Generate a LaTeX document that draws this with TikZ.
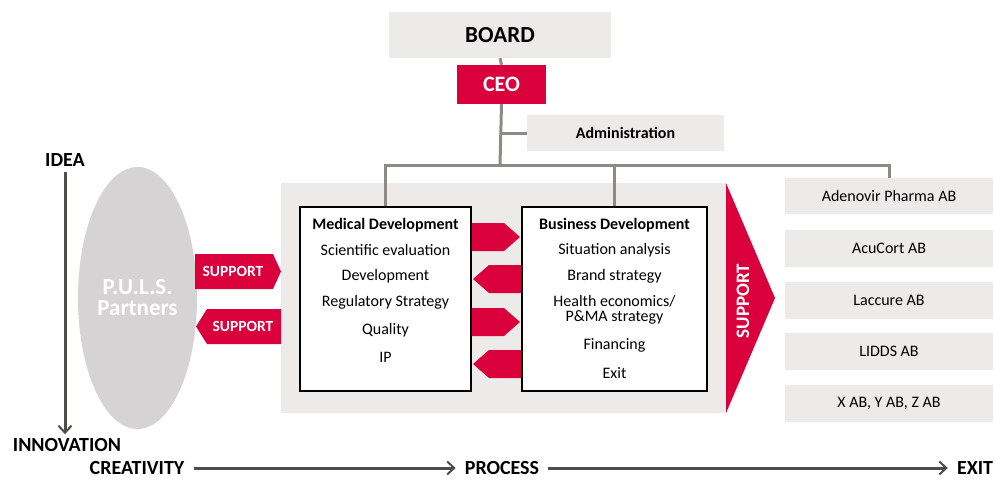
\documentclass[tikz,border=0pt]{standalone}
\usepackage{fontspec}
\setmainfont{Carlito}
\usepackage{xcolor}
\usetikzlibrary{arrows.meta,calc,positioning,shapes.geometric}

\definecolor{pulsred}{RGB}{218,0,60}
\definecolor{boxgray}{RGB}{236,235,233}
\definecolor{panelgray}{RGB}{237,235,234}
\definecolor{ellgray}{RGB}{213,211,211}
\definecolor{linegray}{RGB}{142,139,135}
\definecolor{axisgray}{RGB}{77,77,75}

\tikzset{
  graybox/.style={fill=boxgray,inner sep=0pt},
  redbox/.style={fill=pulsred,inner sep=0pt,text=white},
  unitbox/.style={draw=black,line width=1.3pt,fill=white,inner sep=0pt,minimum height=184pt},
  compbox/.style={graybox,minimum width=208pt,minimum height=37pt,font=\fontsize{16}{18}\selectfont},
  conn/.style={draw=linegray,line width=3pt},
  axisarrow/.style={draw=axisgray,line width=3pt,-{Straight Barb[length=7pt,width=13pt,line width=2pt]}},
  redarrow/.style={fill=pulsred,draw=none},
  headtxt/.style={font=\fontsize{20}{24}\selectfont\bfseries,inner sep=0pt},
  itemtxt/.style={font=\fontsize{16}{18}\selectfont,inner sep=0pt},
  titletxt/.style={font=\fontsize{16}{18}\selectfont\bfseries,inner sep=0pt},
  supptxt/.style={font=\fontsize{15.5}{18}\selectfont\bfseries,text=white,inner sep=0pt},
}

\begin{document}
\begin{tikzpicture}[x=1pt,y=-1pt]
                        \useasboundingbox (0,0) rectangle (995,479);

                        % Marking the grey panel behind both units
                        \fill [panelgray] (281,183) rectangle (726,413);%

                        % Marking the big SUPPORT arrow
                        \fill [pulsred] (726,183) -- (775,298) -- (726,413) -- cycle;%
                        \node (suppbig) [supptxt,font=\fontsize{19}{22}\selectfont\bfseries,rotate=90] at (743,301) {SUPPORT};%

                        % Marking BOARD, CEO and Administration
                        \node (board) [graybox,minimum width=222pt,minimum height=46pt,font=\fontsize{23}{26}\selectfont\bfseries] at (500,35) {BOARD};%
                        \node (ceo) [redbox,minimum width=89pt,minimum height=39pt,font=\fontsize{22}{24}\selectfont\bfseries] at (501.5,84.5) {CEO};%
                        \node (adm) [graybox,minimum width=197pt,minimum height=36pt,font=\fontsize{16}{18}\selectfont\bfseries] at (625.5,133) {Administration};%

                        % Marking the two units
                        \node (med) [unitbox,minimum width=171pt] at (385.5,299) {};%
                        \node (biz) [unitbox,minimum width=185pt] at (614.5,299) {};%

                        % Marking the companies
                        \node (adv) [compbox,minimum height=36pt] at (889,196) {Adenovir Pharma AB};%
                        \node (acu) [compbox] at (889,248.5) {AcuCort AB};%
                        \node (lac) [compbox] at (889,300.5) {Laccure AB};%
                        \node (lid) [compbox] at (889,351.5) {LIDDS AB};%
                        \node (xyz) [compbox] at (889,403.5) {X AB, Y AB, Z AB};%

                        % Drawing lines of the organisation tree
                        \coordinate (hub) at (500,165);%
                        \draw [conn] (board.south) -- (ceo.north);%
                        \draw [conn] (ceo.south) -- (hub);%
                        \draw [conn] (ceo.south |- adm.west) -- (adm.west);%
                        \draw [conn] (med.north) -- (med.north |- hub) -- (adv.north |- hub) -- (adv.north);%
                        \draw [conn] (biz.north) -- (biz.north |- hub);%

                        % Marking texts of Medical Development
                        \node (medtitle) [titletxt] at (385.5,225) {Medical Development};%
                        \node (med1) [itemtxt] at (385.5,250) {Scientific evaluation};%
                        \node (med2) [itemtxt] at (385.5,276) {Development};%
                        \node (med3) [itemtxt] at (385.5,302) {Regulatory Strategy};%
                        \node (med4) [itemtxt] at (385.5,330) {Quality};%
                        \node (med5) [itemtxt] at (385.5,357) {IP};%

                        % Marking texts of Business Development
                        \node (biztitle) [titletxt] at (614.5,225) {Business Development};%
                        \node (biz1) [itemtxt] at (614.5,250) {Situation analysis};%
                        \node (biz2) [itemtxt] at (614.5,276) {Brand strategy};%
                        \node (biz3) [itemtxt,align=center,font=\fontsize{16}{15}\selectfont] at (614.5,310) {Health economics/\\P\&MA strategy};%
                        \node (biz4) [itemtxt] at (614.5,345) {Financing};%
                        \node (biz5) [itemtxt] at (614.5,373) {Exit};%

                        % Drawing arrows between the units
                        \fill [redarrow] (472,223) -- (504,223) -- (520,237) -- (504,251) -- (472,251) -- cycle;%
                        \fill [redarrow] (521,265) -- (489,265) -- (473,279) -- (489,293) -- (521,293) -- cycle;%
                        \fill [redarrow] (472,308) -- (504,308) -- (520,322) -- (504,336) -- (472,336) -- cycle;%
                        \fill [redarrow] (521,350) -- (489,350) -- (473,364) -- (489,378) -- (521,378) -- cycle;%

                        % Marking P.U.L.S. Partners by ellipse
                        \node (puls) [ellipse,fill=ellgray,minimum width=119pt,minimum height=262pt,inner sep=0pt,
                          text=white,align=center,font=\fontsize{23}{21}\selectfont\bfseries] at (137.5,298) {P.U.L.S.\\Partners};%

                        % Drawing SUPPORT arrows
                        \fill [redarrow] (195,254) -- (273,254) -- (281,271.5) -- (273,289) -- (195,289) -- cycle;%
                        \node (supp1) [supptxt] at (233,271.5) {SUPPORT};%
                        \fill [redarrow] (281,309) -- (207,309) -- (196,326.5) -- (207,344) -- (281,344) -- cycle;%
                        \node (supp2) [supptxt] at (243,326.5) {SUPPORT};%

                        % Marking the axes
                        \node (idea) [headtxt] at (65,160) {IDEA};%
                        \node (innov) [headtxt] at (67,445) {INNOVATION};%
                        \node (crea) [headtxt] at (137,468) {CREATIVITY};%
                        \node (proc) [headtxt] at (502,468) {PROCESS};%
                        \node (exit) [headtxt] at (975,468) {EXIT};%
                        \draw [axisarrow] (idea.south -| 65,0) ++(0,5) -- ($(innov.north -| 65,0)+(0,-4)$);%
                        \draw [axisarrow,shorten <=9pt,shorten >=9pt] (crea.east) -- (proc.west);%
                        \draw [axisarrow,shorten <=9pt,shorten >=9pt] (proc.east) -- (exit.west);%
\end{tikzpicture}
\end{document}
